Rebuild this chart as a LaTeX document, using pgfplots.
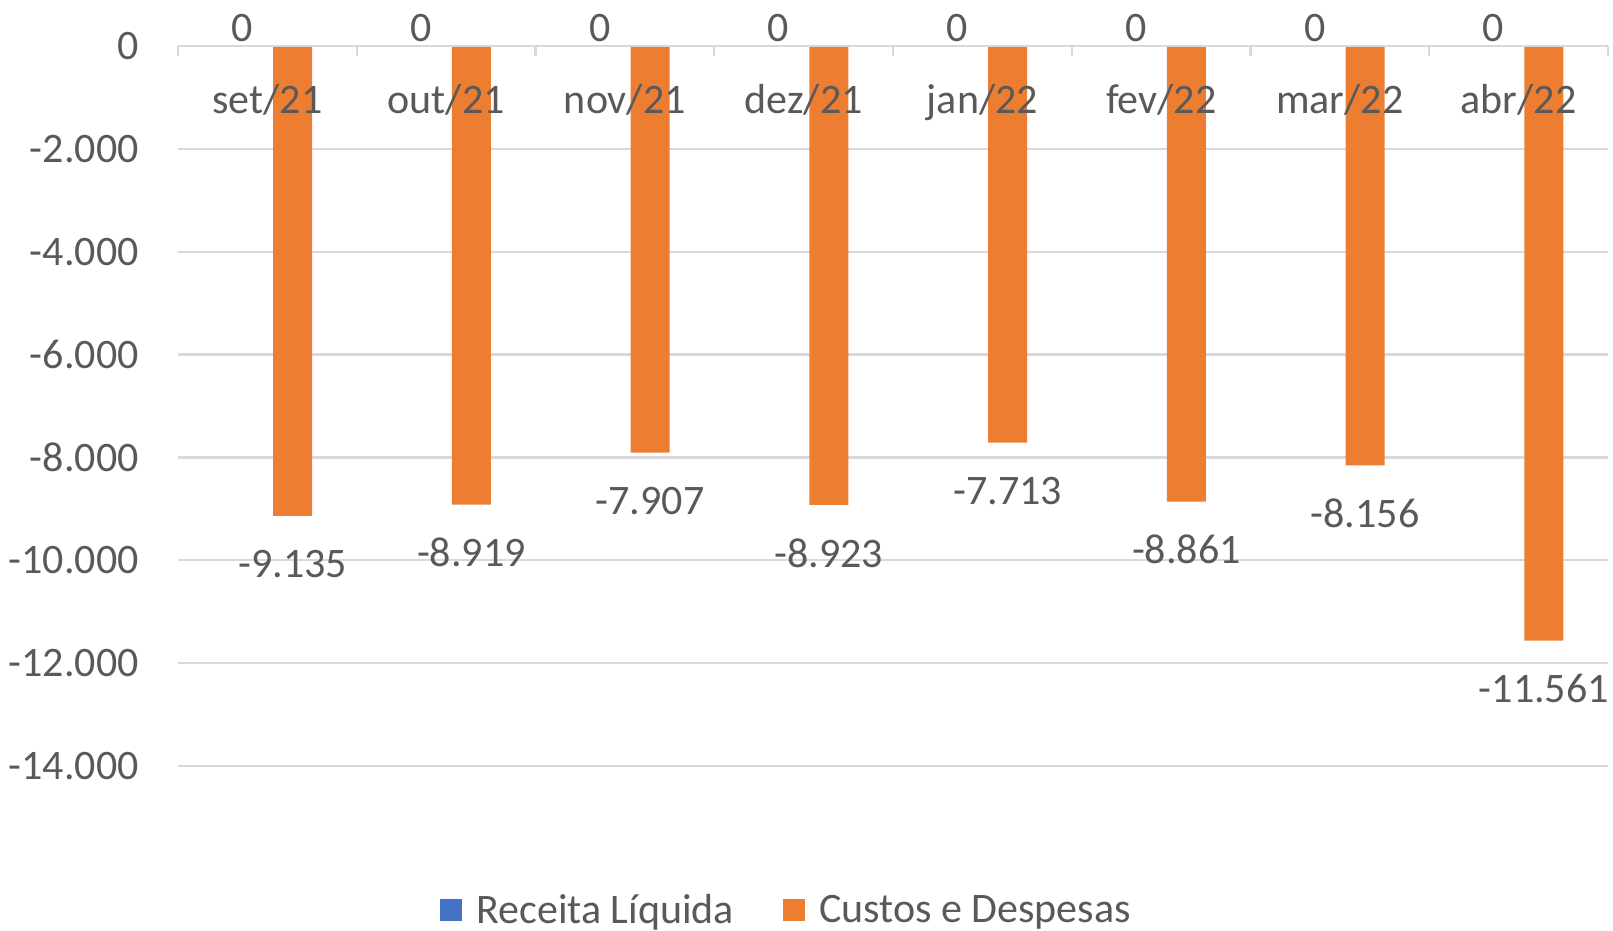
\documentclass[border=0pt]{standalone}
\usepackage{pgfplots}
\pgfplotsset{compat=1.18}
\usepackage{fontspec}
\setmainfont{Carlito}
\definecolor{txt}{HTML}{595959}
\definecolor{grd}{HTML}{D9D9D9}
\definecolor{cblue}{HTML}{4472C4}
\definecolor{corange}{HTML}{ED7D31}
\begin{document}
\begin{tikzpicture}[font=\fontsize{21}{25}\selectfont]
\begin{axis}[
  set layers,
  at={(89pt,82.5pt)}, anchor=south west,
  width=715pt, height=360pt, scale only axis,
  xmin=-0.5, xmax=7.5, ymin=-14000, ymax=0,
  ybar, bar width=0.218,
  axis x line*=top, axis y line*=left,
  x axis line style={draw=grd, line width=1.2pt},
  y axis line style={draw=none},
  xtick={0,...,7},
  xticklabels={set/21,out/21,nov/21,dez/21,jan/22,fev/22,mar/22,abr/22},
  major x tick style={draw=none},
  minor xtick={-0.5,0.5,...,7.5},
  minor x tick style={draw=grd, line width=1.2pt},
  minor tick length=5pt,
  xtick align=inside,
  xticklabel style={anchor=center, text height=15pt, text depth=5pt, yshift=-28.6pt, text=txt},
  ytick={-14000,-12000,...,0},
  ymajorgrids, grid style={draw=grd, line width=1.2pt},
  ytick style={draw=none},
  yticklabel style={anchor=east, inner sep=0pt, xshift=-19.5pt, text=txt},
  scaled y ticks=false,
  /pgf/number format/1000 sep={.},
  /pgf/number format/assume math mode=true,
  legend style={at={(0.4263,-0.2)}, anchor=center, draw=none, fill=none,
    legend columns=2, text=txt,
    /tikz/every odd column/.append style={column sep=5pt},
    /tikz/every even column/.append style={column sep=22.5pt},
    nodes={inner sep=2pt}},
  legend image code/.code={\fill[#1,draw=none] (0pt,-5.5pt) rectangle (11pt,5.5pt);},
]
\addplot[on layer=axis ticks, fill=cblue, draw=none, bar shift=-0.141,
  nodes near coords,
  every node near coord/.append style={anchor=center, yshift=9pt, text=txt}]
  coordinates {(0,0) (1,0) (2,0) (3,0) (4,0) (5,0) (6,0) (7,0)};
\addplot[on layer=axis ticks, fill=corange, draw=none, bar shift=0.141,
  nodes near coords,
  every node near coord/.append style={anchor=center, yshift=-24pt, text=txt}]
  coordinates {(0,-9135) (1,-8919) (2,-7907) (3,-8923) (4,-7713) (5,-8861) (6,-8156) (7,-11561)};
\legend{Receita Líquida, Custos e Despesas}
\end{axis}
\pgfresetboundingbox
\path[use as bounding box] (0,0) rectangle (806.5pt,465.5pt);
\end{tikzpicture}
\end{document}
